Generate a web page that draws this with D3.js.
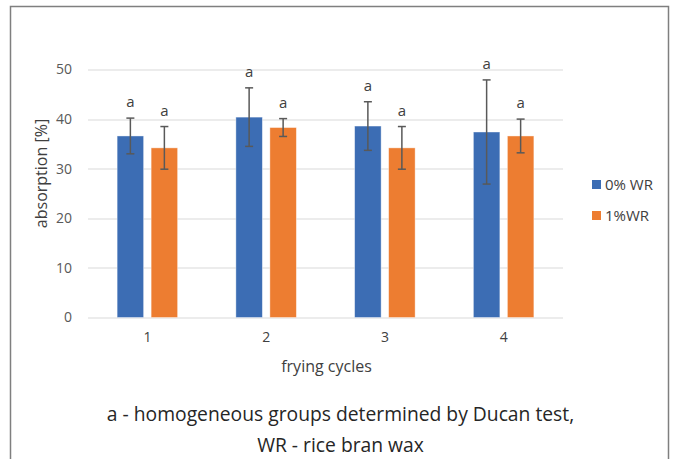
<!DOCTYPE html>
<html>
<head>
<meta charset="utf-8">
<script src="https://cdn.jsdelivr.net/npm/d3@7"></script>
<style>
	body { margin: 0; background: #fff; }
	svg text { font-family: "Open Sans", sans-serif; }
</style>
</head>
<body>
<main></main>
<script>
const cycles = ["1", "2", "3", "4"];
const seriesNames = ["0% WR", "1%WR"];
const wr0Values = [36.6, 40.4, 38.6, 37.4];
const wr0Errors = [3.6, 5.9, 4.9, 10.5];
const wr1Values = [34.2, 38.3, 34.2, 36.6];
const wr1Errors = [4.3, 1.8, 4.3, 3.4];
const wr0Groups = ["a", "a", "a", "a"];
const wr1Groups = ["a", "a", "a", "a"];
const yTicks = [0, 10, 20, 30, 40, 50];
const colors = ["#3c6db4", "#ed7d31"];

function barChart() {
	const dimensions = {
		width: 675,
		height: 459,
		margins: { top: 69.5, right: 112, bottom: 141.5, left: 88 },
	};
	dimensions.boundedWidth = dimensions.width - dimensions.margins.left - dimensions.margins.right;
	dimensions.boundedHeight = dimensions.height - dimensions.margins.top - dimensions.margins.bottom;

	const svg = d3.select("main")
		.append("svg")
		.attr("width", dimensions.width)
		.attr("height", dimensions.height);

	// outer frame
	svg.append("rect")
		.attr("x", 10.5)
		.attr("y", 6.5)
		.attr("width", 658)
		.attr("height", 470)
		.attr("fill", "none")
		.attr("stroke", "#7f7f7f")
		.attr("stroke-width", 1.5);

	const graph = svg.append("g")
		.attr("transform", `translate(${dimensions.margins.left}, ${dimensions.margins.top})`);

	const xScale = d3.scaleBand()
		.domain(cycles)
		.range([0, dimensions.boundedWidth]);

	const yScale = d3.scaleLinear()
		.domain([0, 50])
		.range([dimensions.boundedHeight, 0]);

	// gridlines
	graph.selectAll(".grid")
		.data(yTicks)
		.enter()
		.append("line")
		.attr("x1", 0)
		.attr("x2", dimensions.boundedWidth)
		.attr("y1", d => Math.round(yScale(d)) + 0.5)
		.attr("y2", d => Math.round(yScale(d)) + 0.5)
		.attr("stroke", "#d9d9d9")
		.attr("stroke-width", 1);

	const yAxis = graph.append("g")
		.call(d3.axisLeft(yScale).tickValues(yTicks).tickSize(0).tickPadding(16));
	yAxis.select(".domain").remove();
	yAxis.selectAll("text")
		.attr("fill", "#595959")
		.style("font-size", "14px");

	const xAxis = graph.append("g")
		.attr("transform", `translate(0, ${dimensions.boundedHeight})`)
		.call(d3.axisBottom(xScale).tickSize(0).tickPadding(15));
	xAxis.select(".domain").remove();
	xAxis.selectAll("text")
		.attr("fill", "#404040")
		.style("font-size", "14px");

	const series = [
		{ values: wr0Values, errors: wr0Errors, groups: wr0Groups },
		{ values: wr1Values, errors: wr1Errors, groups: wr1Groups },
	];

	const barWidth = 26.5;
	const barGap = 7.5;
	const offsets = [-(barGap / 2 + barWidth), barGap / 2];

	series.forEach((s, si) => {
		const rows = cycles.map((c, i) => ({ c, v: s.values[i], e: s.errors[i], g: s.groups[i] }));
		const xPos = d => xScale(d.c) + xScale.bandwidth() / 2 + offsets[si];
		const xMid = d => xPos(d) + barWidth / 2;

		graph.selectAll(`.bar${si}`)
			.data(rows)
			.enter()
			.append("rect")
			.attr("x", xPos)
			.attr("y", d => yScale(d.v))
			.attr("width", barWidth)
			.attr("height", d => dimensions.boundedHeight - yScale(d.v))
			.attr("fill", colors[si])
			.attr("stroke", "#fff")
			.attr("stroke-opacity", 0.5)
			.attr("stroke-width", 0.8);

		const err = graph.selectAll(`.err${si}`)
			.data(rows)
			.enter()
			.append("g")
			.attr("stroke", "#595959")
			.attr("stroke-width", 1.5);
		err.append("line")
			.attr("x1", xMid).attr("x2", xMid)
			.attr("y1", d => yScale(d.v + d.e))
			.attr("y2", d => yScale(d.v - d.e));
		err.append("line")
			.attr("x1", d => xMid(d) - 4).attr("x2", d => xMid(d) + 4)
			.attr("y1", d => yScale(d.v + d.e))
			.attr("y2", d => yScale(d.v + d.e));
		err.append("line")
			.attr("x1", d => xMid(d) - 4).attr("x2", d => xMid(d) + 4)
			.attr("y1", d => yScale(d.v - d.e))
			.attr("y2", d => yScale(d.v - d.e));

		graph.selectAll(`.lab${si}`)
			.data(rows)
			.enter()
			.append("text")
			.attr("x", xMid)
			.attr("y", d => Math.min(yScale(d.v + d.e) - 11, yScale(d.v) - 13))
			.attr("text-anchor", "middle")
			.attr("fill", "#404040")
			.style("font-size", "15px")
			.text(d => d.g);
	});

	// axis titles
	svg.append("text")
		.attr("transform", "translate(46.5, 173.5) rotate(-90)")
		.attr("text-anchor", "middle")
		.attr("fill", "#404040")
		.style("font-size", "16px")
		.text("absorption [%]");

	svg.append("text")
		.attr("x", dimensions.margins.left + dimensions.boundedWidth / 2 + 1)
		.attr("y", 371.5)
		.attr("text-anchor", "middle")
		.attr("fill", "#404040")
		.style("font-size", "16px")
		.text("frying cycles");

	// legend
	const legend = svg.append("g")
		.attr("transform", "translate(592, 180)");
	seriesNames.forEach((name, i) => {
		legend.append("rect")
			.attr("x", 0)
			.attr("y", i * 31)
			.attr("width", 9)
			.attr("height", 9)
			.attr("fill", colors[i]);
		legend.append("text")
			.attr("x", 13)
			.attr("y", i * 31 + 10)
			.attr("fill", "#404040")
			.style("font-size", "15px")
			.text(name);
	});

	// footnote
	const notes = ["a - homogeneous groups determined by Ducan test,", "WR - rice bran wax"];
	svg.selectAll(".note")
		.data(notes)
		.enter()
		.append("text")
		.attr("x", 340.5)
		.attr("y", (d, i) => 421 + i * 31)
		.attr("text-anchor", "middle")
		.attr("fill", "#262626")
		.style("font-size", "19.3px")
		.text(d => d);
}
barChart();
</script>
</body>
</html>
